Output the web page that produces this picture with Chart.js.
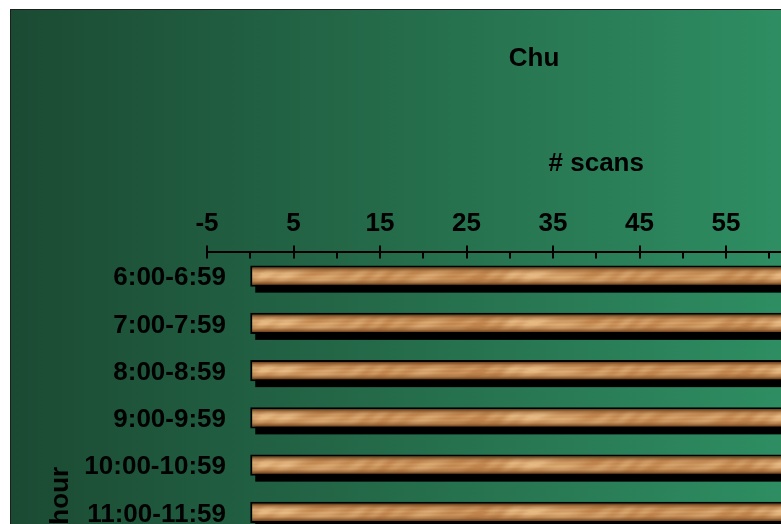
<!DOCTYPE html>
<html>
<head>
<meta charset="utf-8">
<title>Chu</title>
<script src="https://cdn.jsdelivr.net/npm/chart.js@4.4.1/dist/chart.umd.min.js"></script>
<style>
    html, body {
        margin: 0;
        padding: 0;
        background: #ffffff;
        overflow: hidden;
    }
    #chartCanvas {
        display: block;
    }
</style>
</head>
<body>
<canvas id="chartCanvas" width="1057" height="760"></canvas>
<script>
// Chart data
const hours = ['6:00-6:59', '7:00-7:59', '8:00-8:59', '9:00-9:59', '10:00-10:59',
    '11:00-11:59', '12:00-12:59', '13:00-13:59', '14:00-14:59', '15:00-15:59'];
const scans = [78, 83, 71, 66, 74, 80, 69, 75, 72, 64];
const scanMin = -5;
const scanMax = 85;
const scanStep = 10;

const FONT = "'Liberation Sans', Arial, sans-serif";
const BOLD26 = { family: FONT, size: 26, weight: 'bold' };
const CAT_PCT = 0.89;
const BAR_PCT = 0.5;
const BAR_BORDER = 2;

// Wood texture for the bars (one strip, wider than the canvas so no seam shows)
function makeWoodTexture() {
    const w = 1100, h = 17;
    const c = document.createElement('canvas');
    c.width = w;
    c.height = h;
    const g = c.getContext('2d');
    const img = g.createImageData(w, h);
    const light = [232, 188, 134];
    const mid = [192, 132, 76];
    const dark = [122, 74, 34];
    for (let yy = 0; yy < h; yy++) {
        const t = yy / (h - 1);
        // darker near the top and bottom edges
        let edge = Math.pow(Math.abs(t - 0.5) * 2, 3);
        if (yy <= 1) edge = Math.max(edge, yy === 0 ? 0.8 : 0.45);
        for (let xx = 0; xx < w; xx++) {
            // soft blotches that change slowly along the bar
            const blotch = Math.sin(xx * 0.037 + Math.sin(yy * 0.3) * 0.8) *
                Math.sin(xx * 0.0115 + 1.7) + 0.4 * Math.sin(xx * 0.071 + yy * 0.15 + 0.6);
            // fine horizontal grain
            const grain = 0.18 * Math.sin(xx * 0.23 + yy * 0.35 + Math.sin(xx * 0.05) * 2) +
                0.12 * Math.sin(yy * 1.7 + xx * 0.02);
            let n = 0.42 + 0.38 * blotch + grain;
            n = Math.max(0, Math.min(1, n));
            n = n * (1 - 0.7 * Math.abs(t - 0.45));
            let r = mid[0] + (light[0] - mid[0]) * n;
            let gg = mid[1] + (light[1] - mid[1]) * n;
            let b = mid[2] + (light[2] - mid[2]) * n;
            r = r + (dark[0] - r) * edge;
            gg = gg + (dark[1] - gg) * edge;
            b = b + (dark[2] - b) * edge;
            const i = (yy * w + xx) * 4;
            img.data[i] = r;
            img.data[i + 1] = gg;
            img.data[i + 2] = b;
            img.data[i + 3] = 255;
        }
    }
    g.putImageData(img, 0, 0);
    return c;
}

const woodTexture = makeWoodTexture();

function woodFill(ctx) {
    const chart = ctx.chart;
    const ys = chart.scales.y;
    if (!ys || !chart.chartArea) return '#c48a52';
    const spacing = Math.abs(ys.getPixelForValue(1) - ys.getPixelForValue(0));
    const thick = spacing * CAT_PCT * BAR_PCT;
    const top = ys.getPixelForValue(ctx.dataIndex) - thick / 2 + BAR_BORDER;
    const pattern = chart.ctx.createPattern(woodTexture, 'repeat');
    pattern.setTransform(new DOMMatrix().translate(0, top));
    return pattern;
}

// Green gradient background with thin border
const backgroundPlugin = {
    id: 'chartBackground',
    beforeDraw(chart) {
        const ctx = chart.ctx;
        const W = chart.width, H = chart.height;
        const grad = ctx.createLinearGradient(11, 0, W, 0);
        grad.addColorStop(0, '#1b4a33');
        grad.addColorStop(1, '#35a673');
        ctx.save();
        ctx.fillStyle = grad;
        ctx.fillRect(11, 10, W - 11, H - 10);
        ctx.strokeStyle = '#1e1e1e';
        ctx.lineWidth = 1;
        ctx.strokeRect(10.5, 9.5, W, H);
        ctx.restore();
    }
};

// Black drop shadow under each bar
const barShadowPlugin = {
    id: 'barShadow',
    beforeDatasetsDraw(chart) {
        const ctx = chart.ctx;
        const meta = chart.getDatasetMeta(0);
        ctx.save();
        ctx.fillStyle = '#000000';
        meta.data.forEach(bar => {
            const p = bar.getProps(['x', 'y', 'base', 'height'], true);
            const left = Math.min(p.x, p.base);
            ctx.fillRect(left + 5, p.y - p.height / 2 + 6, Math.abs(p.x - p.base), p.height);
        });
        ctx.restore();
    }
};

// Inside tick marks (major + minor) below the top axis line,
// the category labels (they sit right of the y scale box) and the y title
const axisExtrasPlugin = {
    id: 'axisExtras',
    afterDraw(chart) {
        const xs = chart.scales.x;
        const ys = chart.scales.y;
        const ctx = chart.ctx;
        const y0 = xs.bottom;
        ctx.save();
        ctx.strokeStyle = '#000000';
        ctx.lineWidth = 2;
        ctx.beginPath();
        xs.ticks.forEach(t => {
            [t.value, t.value + scanStep / 2].forEach(v => {
                if (v > xs.max) return;
                const px = Math.round(xs.getPixelForValue(v));
                ctx.moveTo(px, y0);
                ctx.lineTo(px, y0 + 6);
            });
        });
        ctx.stroke();

        ctx.fillStyle = '#000000';
        ctx.font = 'bold 26px ' + FONT;
        ctx.textAlign = 'right';
        ctx.textBaseline = 'middle';
        hours.forEach((h, i) => {
            ctx.fillText(ys.getLabelForValue(i), ys.right + 19, ys.getPixelForValue(i) + 2);
        });

        // axis title, a little below the middle of the plot like the original
        ctx.translate(ys.left + 50, (ys.top + ys.bottom) / 2 + 7);
        ctx.rotate(-Math.PI / 2);
        ctx.textAlign = 'center';
        ctx.fillText('hour', 0, 0);
        ctx.restore();
    }
};

document.addEventListener('DOMContentLoaded', function () {
    const canvas = document.getElementById('chartCanvas');
    new Chart(canvas, {
        type: 'bar',
        data: {
            labels: hours,
            datasets: [{
                label: '# scans',
                data: scans,
                backgroundColor: woodFill,
                borderColor: '#000000',
                borderWidth: BAR_BORDER,
                borderSkipped: false,
                categoryPercentage: CAT_PCT,
                barPercentage: BAR_PCT
            }]
        },
        options: {
            indexAxis: 'y',
            responsive: false,
            animation: false,
            devicePixelRatio: 1,
            layout: {
                padding: { left: 11, top: 10, right: 0, bottom: 35 }
            },
            plugins: {
                legend: { display: false },
                tooltip: { enabled: false },
                title: {
                    display: true,
                    text: 'Chu',
                    color: '#000000',
                    font: BOLD26,
                    padding: { top: 33.4, bottom: 71.8 }
                }
            },
            scales: {
                x: {
                    position: 'top',
                    min: scanMin,
                    max: scanMax,
                    afterFit(s) { s.height = 106.1; },
                    ticks: {
                        stepSize: scanStep,
                        color: '#000000',
                        padding: 6,
                        maxRotation: 0,
                        autoSkip: false,
                        font: BOLD26
                    },
                    grid: {
                        drawOnChartArea: false,
                        drawTicks: true,
                        tickLength: 7,
                        color: '#000000',
                        lineWidth: 2
                    },
                    border: { display: true, color: '#000000', width: 2 },
                    title: {
                        display: true,
                        text: '# scans',
                        color: '#000000',
                        font: BOLD26,
                        padding: { top: 2, bottom: 0 }
                    }
                },
                y: {
                    position: 'left',
                    afterFit(s) { s.width = 196; },
                    ticks: { display: false },
                    grid: { display: false, drawTicks: false },
                    border: { display: false },
                    title: { display: false }
                },
                // empty box on the right so the plot area ends where the original does
                y2: {
                    type: 'linear',
                    position: 'right',
                    afterFit(s) { s.width = 71.5; },
                    ticks: { display: false },
                    grid: { display: false },
                    border: { display: false }
                }
            }
        },
        plugins: [backgroundPlugin, barShadowPlugin, axisExtrasPlugin]
    });
});
</script>
</body>
</html>
